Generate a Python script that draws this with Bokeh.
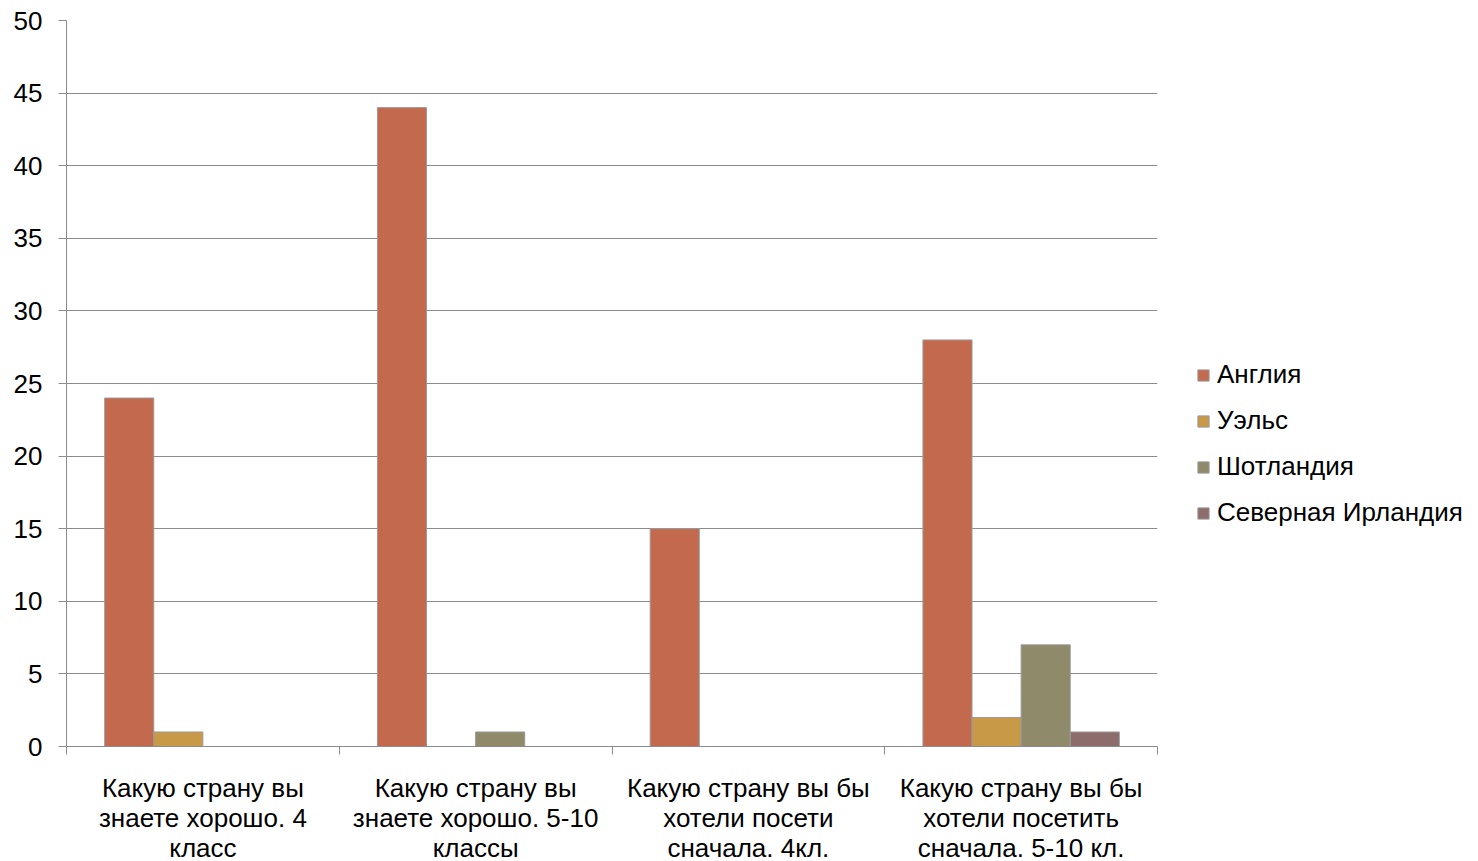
from bokeh.plotting import figure
from bokeh.models import ColumnDataSource, FixedTicker, Legend, LegendItem, Range1d
from bokeh.transform import dodge
from bokeh.embed import file_html
from bokeh.resources import INLINE

categories = [
    "Какую страну вы\nзнаете хорошо. 4\nкласс",
    "Какую страну вы\nзнаете хорошо. 5-10\nклассы",
    "Какую страну вы бы\nхотели посети\nсначала. 4кл.",
    "Какую страну вы бы\nхотели посетить\nсначала. 5-10 кл.",
]
series = ["Англия", "Уэльс", "Шотландия", "Северная Ирландия"]
england = [24, 44, 15, 28]
wales = [1, 0, 0, 2]
scotland = [0, 1, 0, 7]
n_ireland = [0, 0, 0, 1]
colors = ["#C3694D", "#C89A48", "#8E8A6A", "#8C6D6C"]
y_ticks = [0, 5, 10, 15, 20, 25, 30, 35, 40, 45, 50]

FONT = "Liberation Sans"

xc = [i + 0.5 for i in range(len(categories))]
src = ColumnDataSource(dict(x=xc, s0=england, s1=wales, s2=scotland, s3=n_ireland))

p = figure(frame_width=1091, frame_height=726, output_backend="svg", toolbar_location=None,
           x_range=Range1d(0, 4), y_range=Range1d(0, 50),
           min_border_left=66, min_border_top=20, min_border_bottom=114, min_border_right=10)
p.outline_line_color = None
p.background_fill_color = "white"

bw = 0.18
offsets = [-1.5 * bw, -0.5 * bw, 0.5 * bw, 1.5 * bw]
items = []
for i, (name, col) in enumerate(zip(series, colors)):
    r = p.vbar(x=dodge("x", offsets[i], range=p.x_range), top="s%d" % i, width=bw,
               source=src, fill_color=col, line_color="#9a9a9a", line_width=1)
    items.append(LegendItem(label=name, renderers=[r]))

# x axis
xa = p.xaxis[0]
xa.ticker = FixedTicker(ticks=xc, minor_ticks=[0, 1, 2, 3, 4])
xa.major_label_overrides = {x: c for x, c in zip(xc, categories)}
xa.major_tick_line_color = None
xa.major_tick_out = 0
xa.minor_tick_out = 8
xa.minor_tick_in = 0
xa.minor_tick_line_color = "#8c8c8c"
xa.axis_line_color = "#8c8c8c"
xa.major_label_text_font = FONT
xa.major_label_text_font_size = "26px"
xa.major_label_text_color = "black"
xa.major_label_standoff = 18
xa.major_label_text_line_height = 1.0

ya = p.yaxis[0]
ya.ticker = FixedTicker(ticks=y_ticks)
ya.minor_tick_line_color = None
ya.major_tick_out = 8
ya.major_tick_in = 0
ya.major_tick_line_color = "#8c8c8c"
ya.axis_line_color = "#8c8c8c"
ya.major_label_text_font = FONT
ya.major_label_text_font_size = "26px"
ya.major_label_text_color = "black"
ya.major_label_standoff = 16

p.xgrid.grid_line_color = None
p.ygrid.ticker = FixedTicker(ticks=y_ticks)
p.ygrid.grid_line_color = "#8c8c8c"
p.ygrid.grid_line_width = 1

legend = Legend(items=items, location=(39, 218), border_line_color=None,
                background_fill_alpha=0, padding=10, margin=0,
                label_text_font=FONT, label_text_font_size="26px",
                label_text_color="black", glyph_width=14, glyph_height=14,
                label_height=22, label_standoff=7, spacing=15)
p.add_layout(legend, "right")

open("out.html", "w").write(file_html(p, INLINE))
